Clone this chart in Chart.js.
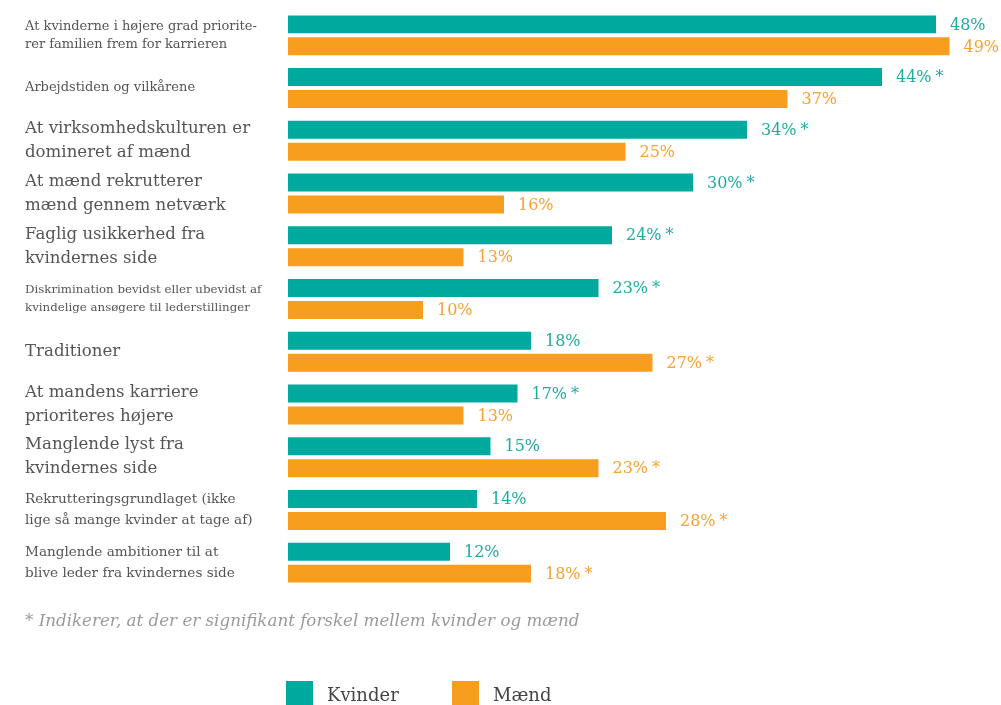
<!DOCTYPE html>
<html>
<head>
<meta charset="utf-8">
<script src="https://cdn.jsdelivr.net/npm/chart.js@4/dist/chart.umd.min.js"></script>
<style>
  html, body { margin: 0; padding: 0; background: #fff; }
  #wrap { width: 1001px; height: 705px; }
</style>
</head>
<body>
<div id="wrap"><canvas id="barChart" width="1001" height="705"></canvas></div>
<script>
// Categories (line breaks as printed) and label sizes
const categories = [
    ['At kvinderne i højere grad priorite-', 'rer familien frem for karrieren'],
    ['Arbejdstiden og vilkårene'],
    ['At virksomhedskulturen er', 'domineret af mænd'],
    ['At mænd rekrutterer', 'mænd gennem netværk'],
    ['Faglig usikkerhed fra', 'kvindernes side'],
    ['Diskrimination bevidst eller ubevidst af', 'kvindelige ansøgere til lederstillinger'],
    ['Traditioner'],
    ['At mandens karriere', 'prioriteres højere'],
    ['Manglende lyst fra', 'kvindernes side'],
    ['Rekrutteringsgrundlaget (ikke', 'lige så mange kvinder at tage af)'],
    ['Manglende ambitioner til at', 'blive leder fra kvindernes side']
];
const labelSize = ['s', 's', 'l', 'l', 'l', 'xs', 'l', 'l', 'l', 'm', 'm'];

// Percentages
const kvinder = [48, 44, 34, 30, 24, 23, 18, 17, 15, 14, 12];
const maend = [49, 37, 25, 16, 13, 10, 27, 13, 23, 28, 18];

// Significant difference markers
const kvinderSig = [false, true, true, true, true, true, false, true, false, false, false];
const maendSig = [false, false, false, false, false, false, true, false, true, true, true];

const footnote = '* Indikerer, at der er signifikant forskel mellem kvinder og mænd';

const TEAL = '#00a99d';
const ORANGE = '#f79e1e';
const SERIF = '"DejaVu Serif", serif';

const fonts = {
    xs: { family: SERIF, size: 11.8, lineHeight: '18px' },
    s: { family: SERIF, size: 13, lineHeight: '18px' },
    m: { family: SERIF, size: 13.6, lineHeight: '21px' },
    l: { family: SERIF, size: 16.6, lineHeight: '24px' }
};

// Percent labels next to each bar
const valueLabels = {
    id: 'valueLabels',
    afterDatasetsDraw(chart) {
        const ctx = chart.ctx;
        ctx.save();
        ctx.font = '16px ' + SERIF;
        ctx.textBaseline = 'middle';
        ctx.textAlign = 'left';
        chart.data.datasets.forEach((ds, di) => {
            const meta = chart.getDatasetMeta(di);
            ctx.fillStyle = ds.labelColor;
            meta.data.forEach((bar, i) => {
                const txt = ds.data[i] + '%';
                const x = bar.x + 14;
                const y = bar.y + 1;
                ctx.fillText(txt, x, y);
                if (ds.sig[i]) {
                    ctx.fillText('*', x + ctx.measureText(txt).width + 4, y);
                }
            });
        });
        ctx.restore();
    }
};

// Footnote and legend under the plot
const footer = {
    id: 'footer',
    afterDraw(chart) {
        const ctx = chart.ctx;
        ctx.save();
        ctx.fillStyle = '#9a9a9a';
        ctx.font = 'italic 16.7px ' + SERIF;
        ctx.textBaseline = 'middle';
        ctx.fillText(footnote, 25, 622);

        const items = [{ x: 286 }, { x: 452 }];
        ctx.font = '18px ' + SERIF;
        chart.data.datasets.forEach((ds, di) => {
            const it = items[di];
            ctx.fillStyle = ds.backgroundColor;
            ctx.fillRect(it.x, 681, 27, 26);
            ctx.fillStyle = '#444';
            ctx.textBaseline = 'alphabetic';
            ctx.fillText(ds.label, it.x + 41, 701);
        });
        ctx.restore();
    }
};

new Chart(document.getElementById('barChart'), {
    type: 'bar',
    data: {
        labels: categories,
        datasets: [{
            label: 'Kvinder',
            data: kvinder,
            sig: kvinderSig,
            backgroundColor: TEAL,
            labelColor: '#1eaca0',
            categoryPercentage: 0.834,
            barPercentage: 0.818
        }, {
            label: 'Mænd',
            data: maend,
            sig: maendSig,
            backgroundColor: ORANGE,
            labelColor: '#f5a231',
            categoryPercentage: 0.834,
            barPercentage: 0.818
        }]
    },
    options: {
        indexAxis: 'y',
        responsive: false,
        animation: false,
        layout: { padding: { left: 25, right: 11, top: 9, bottom: 116 } },
        scales: {
            x: { display: false, min: 0, max: 52 },
            y: {
                grid: { display: false },
                border: { display: false },
                afterFit(scale) {
                    scale.width = 263;
                    scale.paddingTop = 0;
                    scale.paddingBottom = 0;
                },
                ticks: {
                    crossAlign: 'far',
                    color: '#555',
                    autoSkip: false,
                    font: (c) => fonts[labelSize[c.index]]
                }
            }
        },
        plugins: {
            legend: { display: false },
            tooltip: { enabled: false }
        }
    },
    plugins: [valueLabels, footer]
});
</script>
</body>
</html>
